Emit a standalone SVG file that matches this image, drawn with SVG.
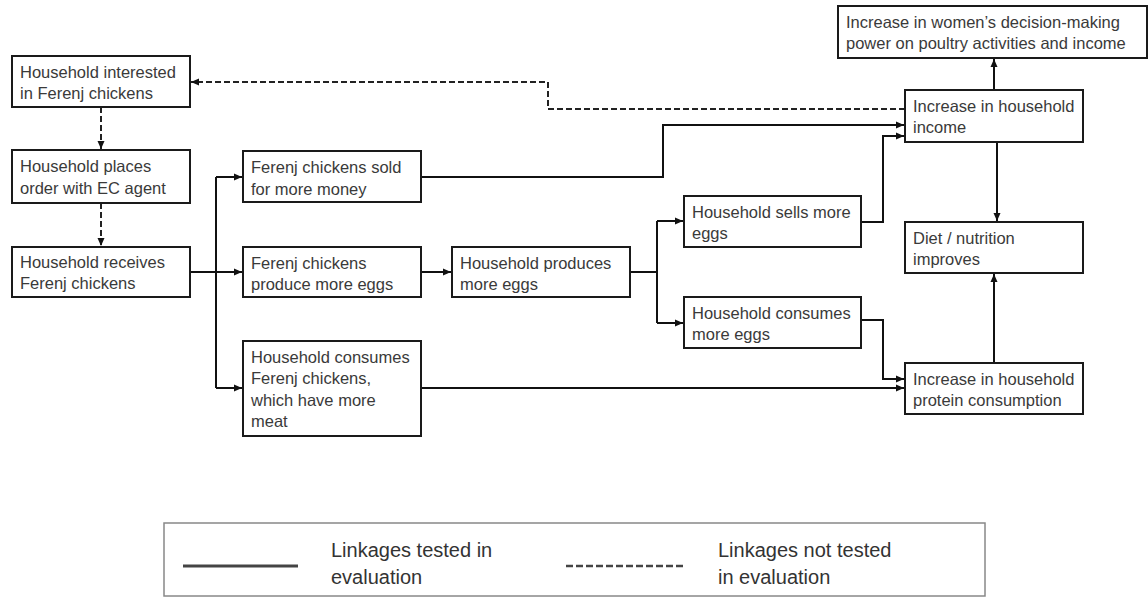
<svg xmlns="http://www.w3.org/2000/svg" width="1148" height="604" viewBox="0 0 1148 604">
<defs>
<style>
.box{fill:#fff;stroke:#1a1a1a;stroke-width:2}
.t{font-family:"Liberation Sans",Arial,sans-serif;font-size:16.5px;fill:#3a3a3a}
.c{fill:none;stroke:#111;stroke-width:2}
.d{fill:none;stroke:#222;stroke-width:2;stroke-dasharray:6 3}
.lg{font-family:"Liberation Sans",Arial,sans-serif;font-size:20px;fill:#333}
</style>
<marker id="ah" markerUnits="userSpaceOnUse" markerWidth="9" markerHeight="8" refX="8" refY="4" orient="auto">
<path d="M0,0.5 L8,4 L0,7.5 z" fill="#111"/>
</marker>
</defs>
<rect width="1148" height="604" fill="#fff"/>
<g id="connectors">
<path class="d" d="M101,107 V149" marker-end="url(#ah)"/>
<path class="d" d="M101,203 V246" marker-end="url(#ah)"/>
<path class="d" d="M905,109 H548 V82 H191" marker-end="url(#ah)"/>
<path class="c" d="M190,272 H216"/>
<path class="c" d="M216,177 V388"/>
<path class="c" d="M216,177 H242" marker-end="url(#ah)"/>
<path class="c" d="M216,272 H242" marker-end="url(#ah)"/>
<path class="c" d="M216,388 H242" marker-end="url(#ah)"/>
<path class="c" d="M421,177 H663 V125 H904" marker-end="url(#ah)"/>
<path class="c" d="M421,272 H451" marker-end="url(#ah)"/>
<path class="c" d="M630,272 H657"/>
<path class="c" d="M657,221 V323"/>
<path class="c" d="M657,221 H683" marker-end="url(#ah)"/>
<path class="c" d="M657,323 H683" marker-end="url(#ah)"/>
<path class="c" d="M861,222 H883 V136 H904" marker-end="url(#ah)"/>
<path class="c" d="M861,320 H883 V379 H904" marker-end="url(#ah)"/>
<path class="c" d="M421,388 H904" marker-end="url(#ah)"/>
<path class="c" d="M994,90 V59" marker-end="url(#ah)"/>
<path class="c" d="M997,142 V221" marker-end="url(#ah)"/>
<path class="c" d="M994,363 V274" marker-end="url(#ah)"/>
</g>
<g id="n1"><rect class="box" x="12" y="56" width="178" height="51"/><text class="t" x="20" y="78">Household interested</text><text class="t" x="20" y="99">in Ferenj chickens</text></g>
<g id="n2"><rect class="box" x="12" y="150" width="178" height="53"/><text class="t" x="20" y="172">Household places</text><text class="t" x="20" y="194">order with EC agent</text></g>
<g id="n3"><rect class="box" x="12" y="247" width="178" height="50"/><text class="t" x="20" y="268">Household receives</text><text class="t" x="20" y="289">Ferenj chickens</text></g>
<g id="n4"><rect class="box" x="243" y="151" width="178" height="51"/><text class="t" x="251" y="173">Ferenj chickens sold</text><text class="t" x="251" y="195">for more money</text></g>
<g id="n5"><rect class="box" x="243" y="247" width="178" height="50"/><text class="t" x="251" y="269">Ferenj chickens</text><text class="t" x="251" y="290">produce more eggs</text></g>
<g id="n6"><rect class="box" x="243" y="341" width="178" height="95"/><text class="t" x="251" y="363">Household consumes</text><text class="t" x="251" y="384">Ferenj chickens,</text><text class="t" x="251" y="406">which have more</text><text class="t" x="251" y="427">meat</text></g>
<g id="n7"><rect class="box" x="452" y="247" width="178" height="50"/><text class="t" x="460" y="269">Household produces</text><text class="t" x="460" y="290">more eggs</text></g>
<g id="n8"><rect class="box" x="684" y="196" width="177" height="51"/><text class="t" x="692" y="218">Household sells more</text><text class="t" x="692" y="239">eggs</text></g>
<g id="n9"><rect class="box" x="684" y="297" width="177" height="51"/><text class="t" x="692" y="319">Household consumes</text><text class="t" x="692" y="340">more eggs</text></g>
<g id="n10"><rect class="box" x="838" y="6" width="309" height="52"/><text class="t" x="846" y="28">Increase in women’s decision-making</text><text class="t" x="846" y="49">power on poultry activities and income</text></g>
<g id="n11"><rect class="box" x="905" y="90" width="178" height="52"/><text class="t" x="913" y="112">Increase in household</text><text class="t" x="913" y="133">income</text></g>
<g id="n12"><rect class="box" x="905" y="222" width="178" height="51"/><text class="t" x="913" y="244">Diet / nutrition</text><text class="t" x="913" y="265">improves</text></g>
<g id="n13"><rect class="box" x="905" y="363" width="178" height="51"/><text class="t" x="913" y="385">Increase in household</text><text class="t" x="913" y="406">protein consumption</text></g>
<g id="legend">
<rect x="164" y="523" width="821" height="73" fill="#fff" stroke="#888" stroke-width="1.5"/>
<line x1="183" y1="566" x2="298" y2="566" stroke="#444" stroke-width="3"/>
<line x1="566" y1="566" x2="683" y2="566" stroke="#444" stroke-width="2.5" stroke-dasharray="7 3"/>
<text class="lg" x="331" y="557">Linkages tested in</text>
<text class="lg" x="331" y="584">evaluation</text>
<text class="lg" x="718" y="557">Linkages not tested</text>
<text class="lg" x="718" y="584">in evaluation</text>
</g>
</svg>
